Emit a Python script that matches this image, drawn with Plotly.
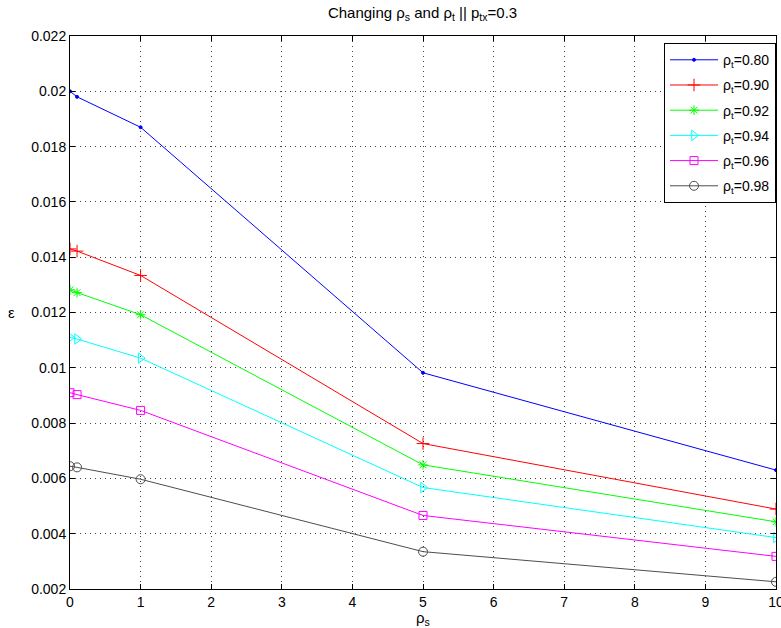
import plotly.graph_objects as go

rho_s = [0, 0.1, 1, 5, 10]
labels = ["ρ<sub>t</sub>=0.80", "ρ<sub>t</sub>=0.90", "ρ<sub>t</sub>=0.92",
          "ρ<sub>t</sub>=0.94", "ρ<sub>t</sub>=0.96", "ρ<sub>t</sub>=0.98"]
eps_080 = [0.0200, 0.0198, 0.0187, 0.00982, 0.0063]
eps_090 = [0.0143, 0.01422, 0.01334, 0.00726, 0.00489]
eps_092 = [0.01282, 0.01272, 0.01192, 0.00649, 0.00443]
eps_094 = [0.0111, 0.01104, 0.01035, 0.00567, 0.00386]
eps_096 = [0.0091, 0.00903, 0.00846, 0.00466, 0.00318]
eps_098 = [0.00644, 0.0064, 0.00597, 0.00335, 0.00226]
series = [eps_080, eps_090, eps_092, eps_094, eps_096, eps_098]

colors = ["#0000ff", "#ff0000", "#00ff00", "#00ffff", "#ff00ff", "#4d4d4d"]
symbols = ["circle", "cross-thin-open", "asterisk-open", "triangle-right-open",
           "square-open", "circle-open"]
sizes = [3, 9, 8, 9, 8, 9]

yticks = [0.002, 0.004, 0.006, 0.008, 0.01, 0.012, 0.014, 0.016, 0.018, 0.02, 0.022]
yticktext = ["0.002", "0.004", "0.006", "0.008", "0.01", "0.012", "0.014",
             "0.016", "0.018", "0.02", "0.022"]
xticks = list(range(0, 11))

FONT = "Liberation Sans, Arial, Helvetica, sans-serif"

fig = go.Figure()
for i, (lab, ys, c, s, sz) in enumerate(zip(labels, series, colors, symbols, sizes)):
    fig.add_trace(go.Scatter(
        x=rho_s, y=ys, name=lab, mode="lines+markers", legendgroup=f"g{i}",
        line=dict(color=c, width=1),
        marker=dict(symbol=s, size=sz, color=c, line=dict(color=c, width=1)),
    ))

axis_common = dict(
    showline=True, linecolor="black", linewidth=1, mirror="ticks",
    ticks="inside", ticklen=5, tickcolor="black",
    showgrid=True, gridcolor="#444", gridwidth=1, griddash="1px,4px",
    zeroline=False, tickfont=dict(family=FONT, size=14, color="black"),
    ticklabeloverflow="allow", automargin=False,
)

fig.update_xaxes(range=[0, 10], tickvals=xticks, **axis_common)
fig.update_yaxes(range=[0.002, 0.022], tickvals=yticks, ticktext=yticktext,
                 **axis_common)

fig.update_layout(
    width=781, height=628,
    margin=dict(l=70, r=5, t=36, b=39, autoexpand=False),
    plot_bgcolor="white", paper_bgcolor="white",
    font=dict(family=FONT, size=14, color="black"),
    title=dict(text="Changing ρ<sub>s</sub> and ρ<sub>t</sub> || p<sub>tx</sub>=0.3",
               x=0.541, xanchor="center", y=0.98, yanchor="middle",
               font=dict(family=FONT, size=15, color="black")),
    legend=dict(x=1, xanchor="right", y=0.987, yanchor="top",
                bgcolor="white", bordercolor="black", borderwidth=1,
                itemwidth=48, tracegroupgap=4,
                font=dict(family=FONT, size=14, color="black")),
    showlegend=True,
)

fig.add_annotation(text="ε", xref="paper", yref="paper",
                   x=(12 - 70) / 706, y=0.5, xanchor="center", yanchor="middle",
                   showarrow=False, font=dict(family=FONT, size=15, color="black"))
fig.add_annotation(text="ρ<sub>s</sub>", xref="paper", yref="paper",
                   x=0.5, y=(589 - 618) / 553, xanchor="center", yanchor="middle",
                   showarrow=False, font=dict(family=FONT, size=15, color="black"))

fig.write_html("out.html", config={"displayModeBar": False},
               post_script="document.body.style.margin='0px';document.body.style.overflow='hidden';")
